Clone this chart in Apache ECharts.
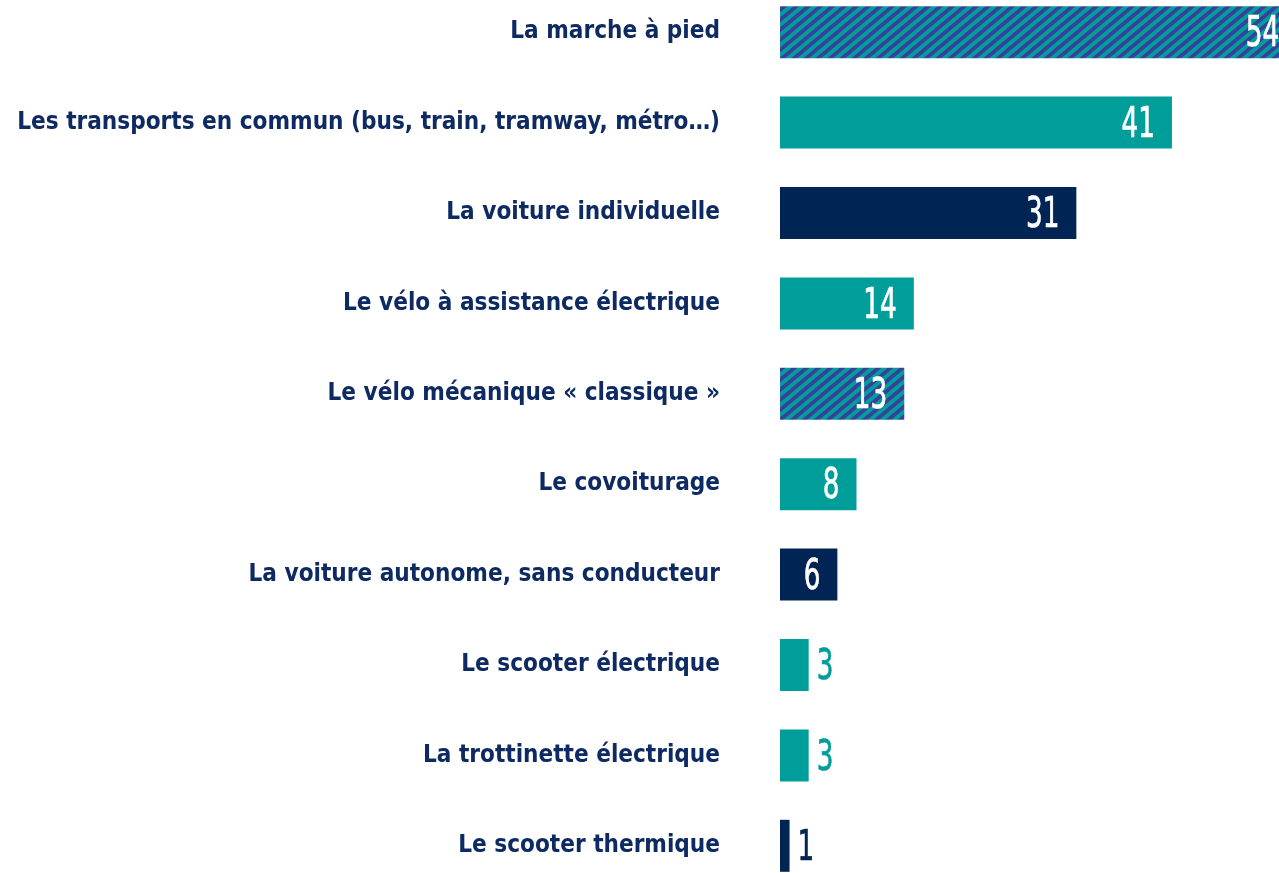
<!DOCTYPE html>
<html><head><meta charset="utf-8">
<script src="https://cdn.jsdelivr.net/npm/echarts@6/dist/echarts.min.js"></script>
<style>html,body{margin:0;padding:0;background:#fff}#c{width:1279px;height:873px}</style>
</head><body><div id="c"></div>
<script>
const categories = [
  "La marche à pied",
  "Les transports en commun (bus, train, tramway, métro…)",
  "La voiture individuelle",
  "Le vélo à assistance électrique",
  "Le vélo mécanique « classique »",
  "Le covoiturage",
  "La voiture autonome, sans conducteur",
  "Le scooter électrique",
  "La trottinette électrique",
  "Le scooter thermique"
];
const values = [54, 41, 31, 14, 13, 8, 6, 3, 3, 1];
const groups = ["hatched","teal","navy","teal","hatched","teal","navy","teal","teal","navy"];

const TEAL = "#009E9B", NAVY = "#002453", STRIPE = "#38409C", TEXT = "#0E2A62";
const FONT = "'DejaVu Sans Condensed', 'Liberation Sans Narrow', sans-serif";

function hatch() {
  const P = 12, H = 10, cv = document.createElement('canvas');
  cv.width = P; cv.height = H;
  const g = cv.getContext('2d');
  g.fillStyle = TEAL; g.fillRect(0, 0, P, H);
  g.strokeStyle = STRIPE; g.lineWidth = 3.7;
  for (let k = -2; k <= 2; k++) {
    g.beginPath(); g.moveTo(k * P - P, 2 * H); g.lineTo(k * P + 2 * P, -H); g.stroke();
  }
  return cv;
}
const pattern = { image: hatch(), repeat: 'repeat' };
const fillOf = g => g === "hatched" ? pattern : (g === "teal" ? TEAL : NAVY);
const solidOf = g => g === "navy" ? NAVY : TEAL;

const chart = echarts.init(document.getElementById('c'), null, { renderer: 'canvas' });
chart.setOption({
  animation: false,
  grid: { left: 780, top: -13, height: 904, width: 573.6, outerBoundsMode: 'none', containLabel: false },
  xAxis: { type: 'value', min: 0, max: 60, show: false },
  yAxis: {
    type: 'category', data: categories, inverse: true,
    axisLine: { show: false }, axisTick: { show: false },
    axisLabel: { margin: 60, color: TEXT, fontFamily: FONT, fontWeight: 'bold', fontSize: 24.1, align: 'right', padding: [0, 0, 7, 0] }
  },
  series: [{
    type: 'bar', barWidth: 52, z: 2,
    data: values.map((v, i) => ({ value: v, itemStyle: { color: fillOf(groups[i]) } }))
  }, {
    type: 'custom', z: 10,
    data: values.map((v, i) => [v, i]),
    renderItem: function (params, api) {
      const v = api.value(0), idx = api.value(1);
      const p = api.coord([v, idx]);
      const small = v < 5;
      const col = small ? solidOf(groups[idx]) : '#ffffff';
      return {
        type: 'text',
        x: small ? p[0] + 8 : p[0] - 17,
        y: p[1] + 3,
        scaleX: 0.68,
        z2: 100,
        style: {
          text: String(v),
          fill: col,
          stroke: col,
          lineWidth: 0.7,
          font: "normal 43px " + FONT,
          align: small ? 'left' : 'right',
          verticalAlign: 'middle'
        }
      };
    }
  }]
});
</script></body></html>
